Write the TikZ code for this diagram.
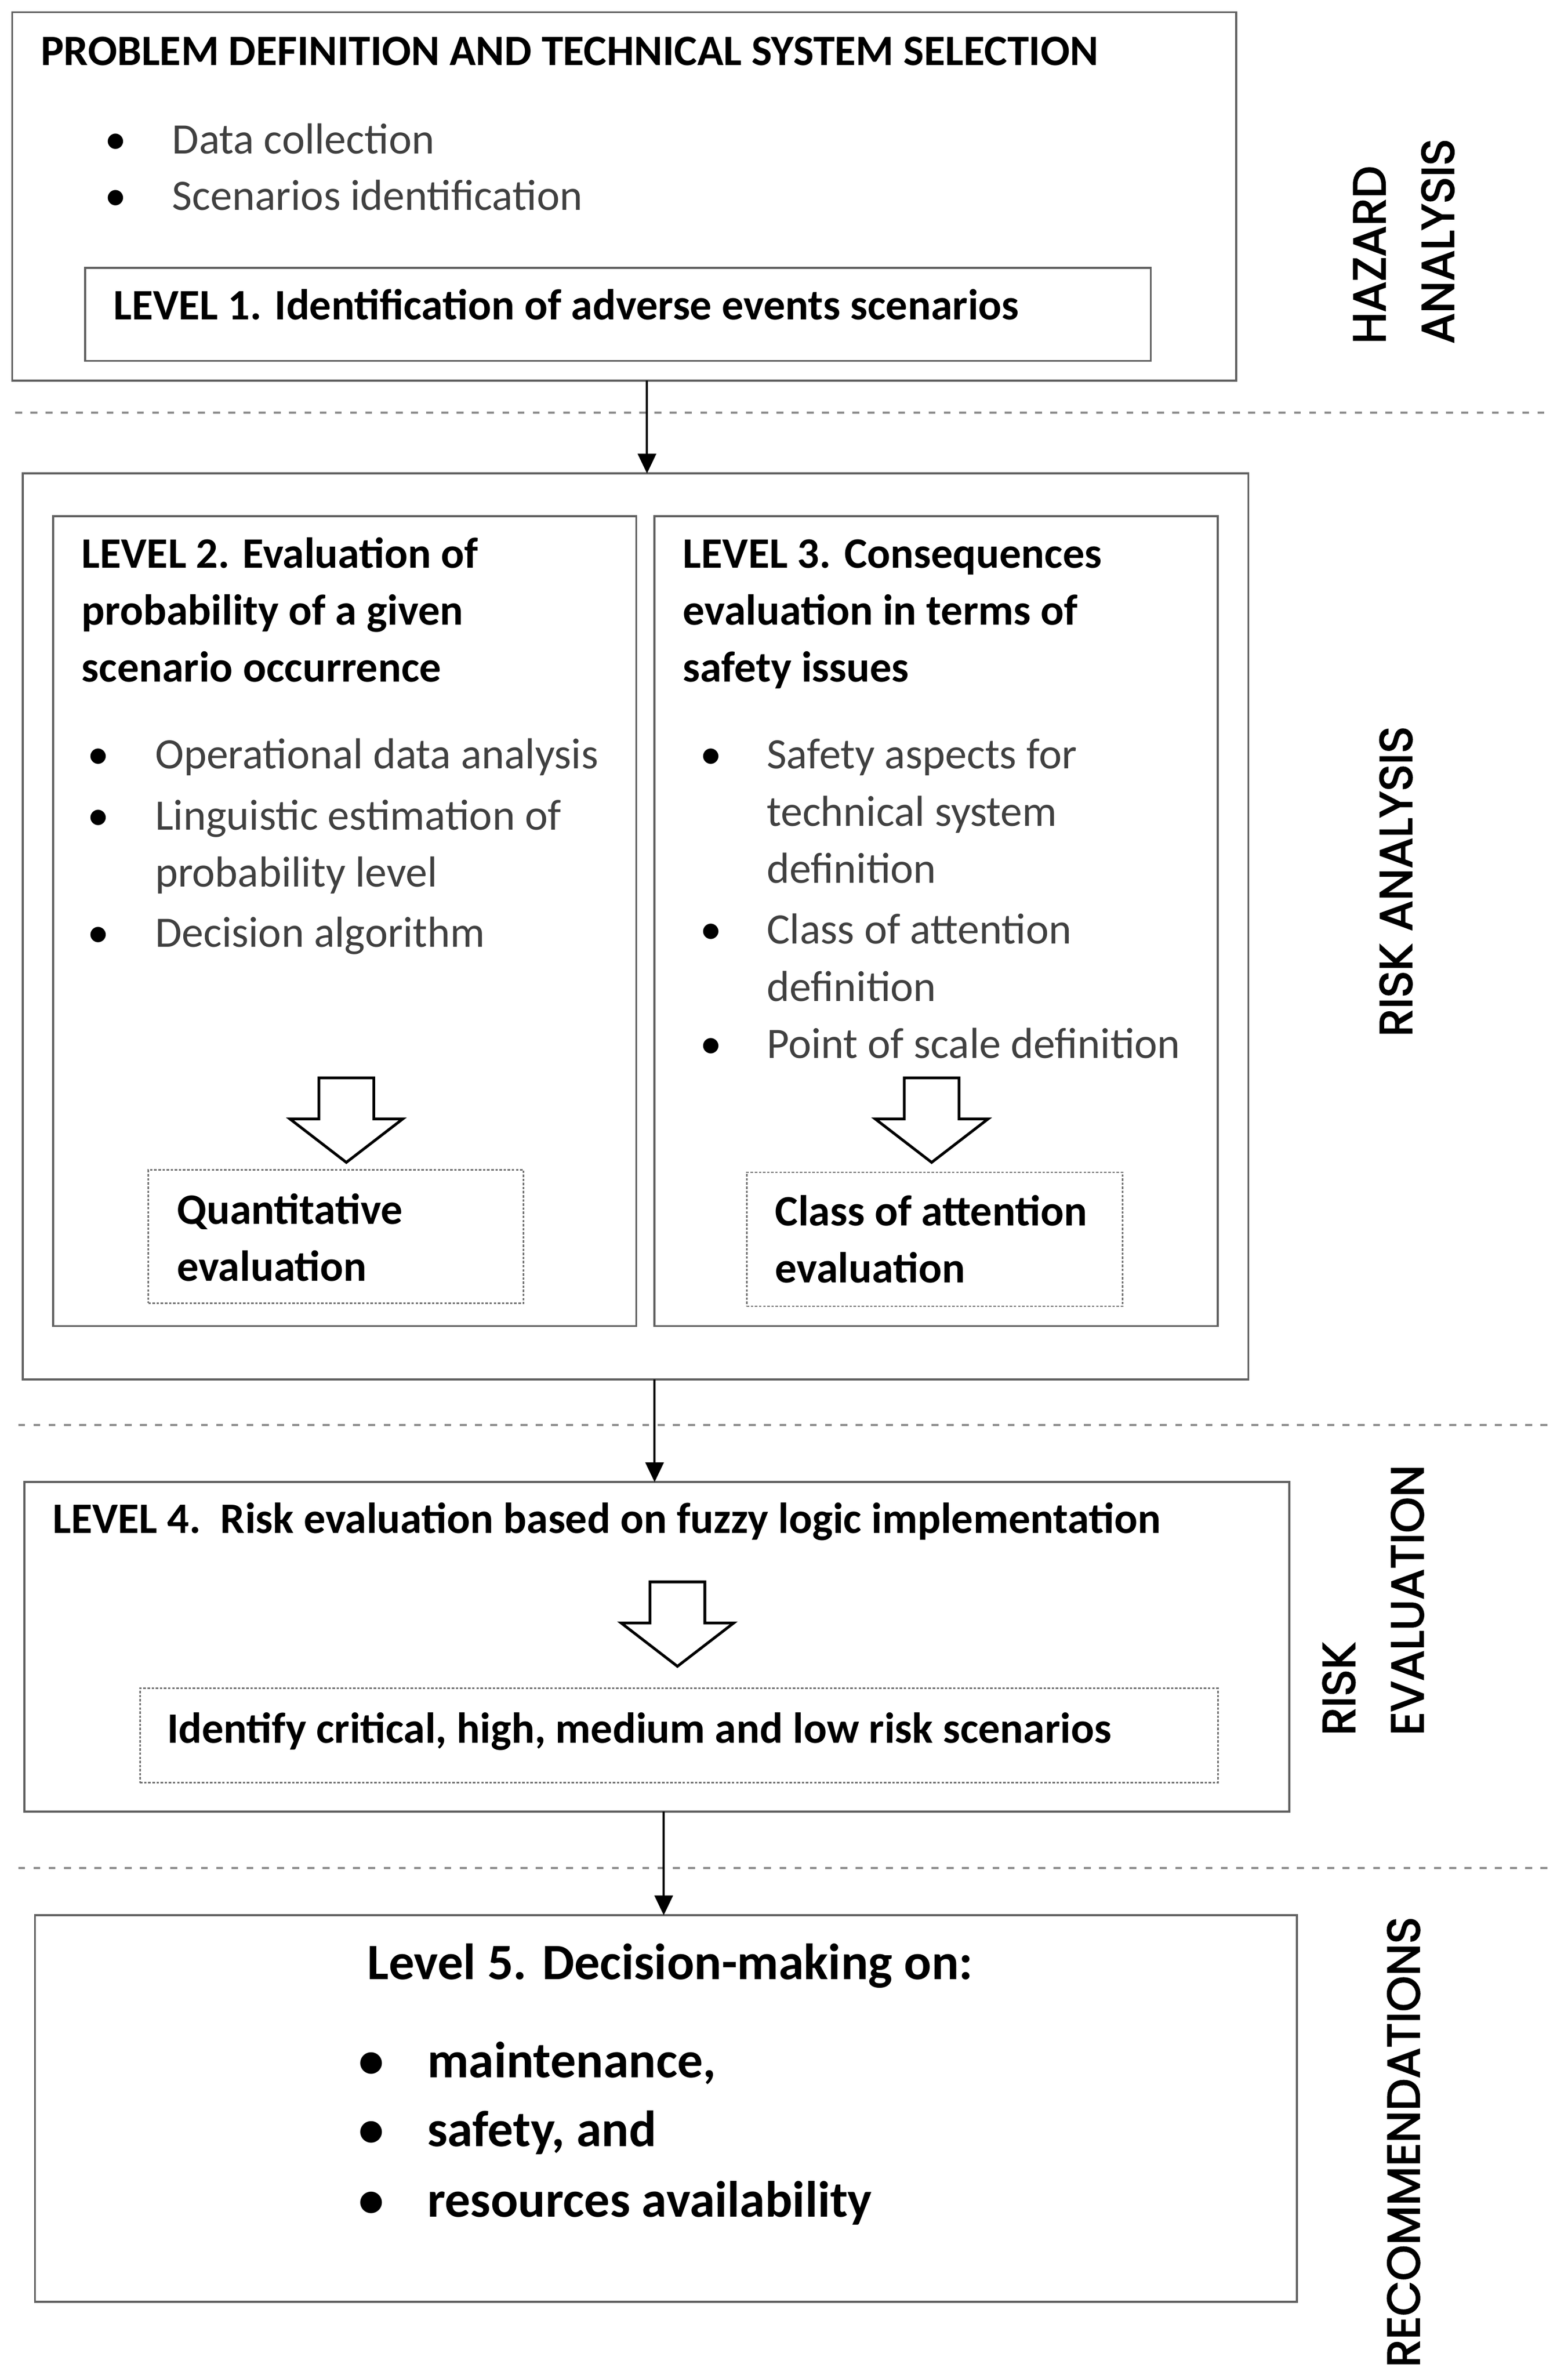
\documentclass[tikz,border=0pt]{standalone}
\usepackage{fontspec}
\setmainfont{Carlito}
\newfontfamily\labfont{Poppins}[FakeBold=2.5]
\usetikzlibrary{arrows.meta}
\newcommand{\mylines}[1]{\begin{tabular}[t]{@{}l@{}}#1\end{tabular}}
\newcommand{\bodysize}{\fontsize{28.5}{37.5}\selectfont}
\newcommand{\bigsize}{\fontsize{33.5}{46}\selectfont}
\newcommand{\labsize}{\labfont\fontsize{30}{45}\selectfont}
\tikzset{
  frame/.style={draw=black!62, line width=1.3pt, rectangle, anchor=north west, inner sep=0pt, outer sep=0pt},
  dotbox/.style={draw=black!55, line width=1pt, dash pattern=on 1.6pt off 1.1pt, rectangle, anchor=north west, inner sep=0pt, outer sep=0pt},
  sepline/.style={draw=black!45, line width=1.6pt, dash pattern=on 4.5pt off 5.5pt},
  conn/.style={draw=black, line width=1.4pt, -{Triangle[width=12pt,length=13pt]}},
  blockarrow/.style={draw=black, line width=1.8pt, fill=white, line join=miter},
  bt/.style={inner sep=0pt, anchor=base west, font=\bodysize\bfseries, text=black},
  rt/.style={inner sep=0pt, anchor=base west, font=\bodysize, text=black!75},
  bul/.style={inner sep=0pt, anchor=base, font=\bodysize, text=black},
  bbt/.style={inner sep=0pt, anchor=base west, font=\bigsize\bfseries, text=black},
  bbul/.style={inner sep=0pt, anchor=base, font=\bigsize\bfseries, text=black},
  lab/.style={inner sep=0pt, font=\labsize, text=black, rotate=90},
  hollowarrow/.pic={\draw[blockarrow] (-18,0) -- (18,0) -- (18,27) -- (37,27) -- (0,55.5) -- (-37,27) -- (-18,27) -- cycle;}
}
\begin{document}
\begin{tikzpicture}[x=1pt,y=-1pt]
\useasboundingbox (0,0) rectangle (1029.7,1560);
% ---------- Hazard analysis ----------
\node[frame, minimum width=804pt, minimum height=242pt] (A) at (8,8) {};
\node[bt] (tA) at (26.6,43) {PROBLEM DEFINITION AND TECHNICAL SYSTEM SELECTION};
\node[bul] (bA1) at (76,101) {\textbullet};
\node[rt] (tA1) at (113,101) {Data collection};
\node[bul] (bA2) at (76,138) {\textbullet};
\node[rt] (tA2) at (113,138) {Scenarios identification};
\node[frame, minimum width=700pt, minimum height=61pt] (L1) at (56,176) {};
\node[bt] (tL1) at (74.4,210) {LEVEL 1. Identification of adverse events scenarios};
\node[lab, anchor=base west] (hz) at (910,226) {\mylines{HAZARD\\ANALYSIS}};
\draw[sepline] (10,271) -- (1020,271);
% ---------- Risk analysis ----------
\node[frame, minimum width=805pt, minimum height=595pt] (B) at (15,311) {};
\node[frame, minimum width=383pt, minimum height=532pt] (L2) at (35,339) {};
\node[frame, minimum width=370pt, minimum height=532pt] (L3) at (430,339) {};
\node[bt] (tL2) at (53.5,373) {\mylines{LEVEL 2. Evaluation of\\probability of a given\\scenario occurrence}};
\node[bul] (b21) at (64.5,505) {\textbullet};
\node[rt] (t21) at (101.7,505) {Operational data analysis};
\node[bul] (b22) at (64.5,545) {\textbullet};
\node[rt] (t22) at (101.7,545) {\mylines{Linguistic estimation of\\probability level}};
\node[bul] (b23) at (64.5,622) {\textbullet};
\node[rt] (t23) at (101.7,622) {Decision algorithm};
\pic at (227.5,708) {hollowarrow};
\node[dotbox, minimum width=246.5pt, minimum height=87.5pt] (Q) at (97.5,768.5) {};
\node[bt] (tQ) at (116,804) {\mylines{Quantitative\\evaluation}};
\node[bt] (tL3) at (448.5,373) {\mylines{LEVEL 3. Consequences\\evaluation in terms of\\safety issues}};
\node[bul] (b31) at (467,505) {\textbullet};
\node[rt] (t31) at (503.5,505) {\mylines{Safety aspects for\\technical system\\definition}};
\node[bul] (b32) at (467,620) {\textbullet};
\node[rt] (t32) at (503.5,620) {\mylines{Class of attention\\definition}};
\node[bul] (b33) at (467,695) {\textbullet};
\node[rt] (t33) at (503.5,695) {Point of scale definition};
\pic at (612,708) {hollowarrow};
\node[dotbox, minimum width=247pt, minimum height=88pt] (CA) at (490.5,770) {};
\node[bt] (tCA) at (509,805) {\mylines{Class of attention\\evaluation}};
\node[lab, anchor=center] (ra) at (917,579) {RISK ANALYSIS};
\draw[sepline] (12,936) -- (1022,936);
% ---------- Risk evaluation ----------
\node[frame, minimum width=831pt, minimum height=216.5pt] (C) at (16,973.5) {};
\node[bt] (tC) at (34.6,1007) {LEVEL 4.\ \ Risk evaluation based on fuzzy logic implementation};
\pic at (445,1039) {hollowarrow};
\node[dotbox, minimum width=708pt, minimum height=62pt] (ID) at (92,1109) {};
\node[bt] (tID) at (109.5,1145) {Identify critical, high, medium and low risk scenarios};
\node[lab, anchor=base west] (re) at (890,1140) {\mylines{RISK\\EVALUATION}};
\draw[sepline] (12,1227) -- (1022,1227);
% ---------- Recommendations ----------
\node[frame, minimum width=829pt, minimum height=254pt] (D) at (23,1258) {};
\node[bbt] (tD) at (241,1300) {Level 5. Decision-making on:};
\node[bbul] (b51) at (244,1364.5) {\textbullet};
\node[bbt] (t51) at (280.5,1364.5) {maintenance,};
\node[bbul] (b52) at (244,1410) {\textbullet};
\node[bbt] (t52) at (280.5,1410) {safety, and};
\node[bbul] (b53) at (244,1456) {\textbullet};
\node[bbt] (t53) at (280.5,1456) {resources availability};
\node[lab, anchor=center] (rec) at (922,1407) {RECOMMENDATIONS};
% ---------- connectors ----------
\coordinate (x1) at (425,0);
\coordinate (x2) at (430,0);
\coordinate (x3) at (436,0);
\draw[conn] (A.south -| x1) -- (B.north -| x1);
\draw[conn] (B.south -| x2) -- (C.north -| x2);
\draw[conn] (C.south -| x3) -- (D.north -| x3);
\end{tikzpicture}
\end{document}
